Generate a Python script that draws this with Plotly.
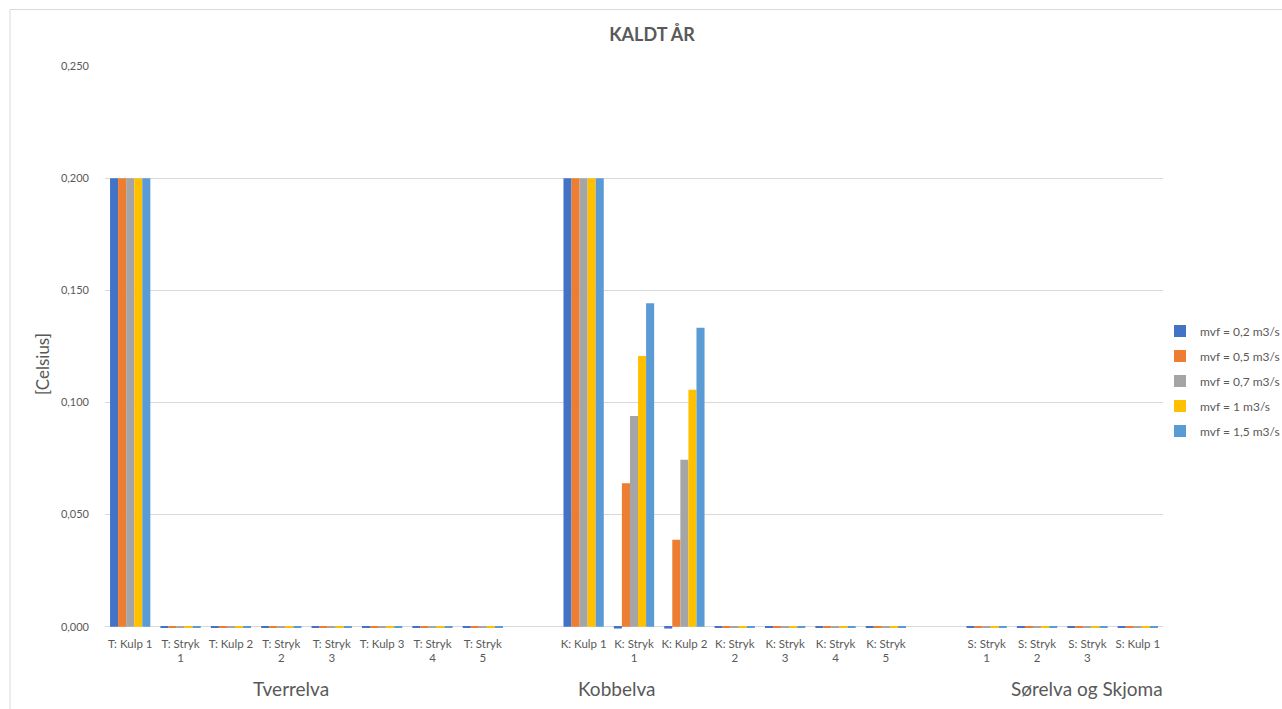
import plotly.graph_objects as go

# Measurement points per river (in plotting order)
rivers = ["Tverrelva", "Kobbelva", "Sørelva og Skjoma"]
tverrelva_points = ["T: Kulp 1", "T: Stryk 1", "T: Kulp 2", "T: Stryk 2", "T: Stryk 3",
                    "T: Kulp 3", "T: Stryk 4", "T: Stryk 5"]
kobbelva_points = ["K: Kulp 1", "K: Stryk 1", "K: Kulp 2", "K: Stryk 2", "K: Stryk 3",
                   "K: Stryk 4", "K: Stryk 5"]
sorelva_points = ["S: Stryk 1", "S: Stryk 2", "S: Stryk 3", "S: Kulp 1"]

series_names = ["mvf = 0,2 m3/s", "mvf = 0,5 m3/s", "mvf = 0,7 m3/s",
                "mvf = 1 m3/s", "mvf = 1,5 m3/s"]

# Temperature change [Celsius] per minimum flow, one list per series
mvf_02 = [0.200, -0.0005, -0.0005, -0.0005, -0.0005, -0.0005, -0.0005, -0.0005,
          0.200, -0.0008, -0.0008, -0.0005, -0.0005, -0.0005, -0.0005,
          -0.0005, -0.0005, -0.0005, -0.0005]
mvf_05 = [0.200, -0.0005, -0.0005, -0.0005, -0.0005, -0.0005, -0.0005, -0.0005,
          0.200, 0.064, 0.0388, -0.0005, -0.0005, -0.0005, -0.0005,
          -0.0005, -0.0005, -0.0005, -0.0005]
mvf_07 = [0.200, -0.0005, -0.0005, -0.0005, -0.0005, -0.0005, -0.0005, -0.0005,
          0.200, 0.094, 0.0745, -0.0005, -0.0005, -0.0005, -0.0005,
          -0.0005, -0.0005, -0.0005, -0.0005]
mvf_1 = [0.200, -0.0005, -0.0005, -0.0005, -0.0005, -0.0005, -0.0005, -0.0005,
         0.200, 0.1207, 0.1057, -0.0005, -0.0005, -0.0005, -0.0005,
         -0.0005, -0.0005, -0.0005, -0.0005]
mvf_15 = [0.200, -0.0005, -0.0005, -0.0005, -0.0005, -0.0005, -0.0005, -0.0005,
          0.200, 0.1442, 0.1333, -0.0005, -0.0005, -0.0005, -0.0005,
          -0.0005, -0.0005, -0.0005, -0.0005]

series_values = [mvf_02, mvf_05, mvf_07, mvf_1, mvf_15]
colors = ["#4472C4", "#ED7D31", "#A5A5A5", "#FFC000", "#5B9BD5"]

# Category slots: one empty slot between rivers
groups = [tverrelva_points, kobbelva_points, sorelva_points]
slot_x, slot_labels = [], []
pos = 0
for gi, g in enumerate(groups):
    for name in g:
        slot_x.append(pos)
        # wrap "X: Stryk n" onto two lines like the category axis does
        parts = name.rsplit(" ", 1)
        if parts[0].endswith("Stryk"):
            slot_labels.append(parts[0] + "<br>" + parts[1])
        else:
            slot_labels.append(name)
        pos += 1
    if gi < len(groups) - 1:
        pos += 1
last_slot = slot_x[-1]

TXT = "#595959"
FONT = "Lato, 'Open Sans', sans-serif"

fig = go.Figure()
for name, vals, col in zip(series_names, series_values, colors):
    fig.add_trace(go.Bar(
        x=slot_x, y=vals, name=name, marker=dict(color=col, line=dict(width=0)),
        legendgroup=name,
    ))

# plot area geometry (pixels); the value axis starts a hair below zero
W, H = 1282, 709
ml, mr, mt, mb = 105, 119, 66, 80
pw, ph = W - ml - mr, H - mt - mb
y_min, y_max = -0.001, 0.25


def py(pix):
    """paper y for a pixel row"""
    return (mt + ph - pix) / ph


def px(pix):
    """paper x for a pixel column"""
    return (pix - ml) / pw


# river labels under the category labels
river_x = [3.19, 9.66, 18.99]
annotations = []
for r, xr in zip(rivers, river_x):
    annotations.append(dict(
        x=xr, y=py(688), xref="x", yref="paper", text=r,
        showarrow=False, font=dict(family=FONT, size=19, color=TXT),
        xanchor="center", yanchor="middle",
    ))
# value axis title
annotations.append(dict(
    x=px(42), y=py(364), xref="paper", yref="paper", text="[Celsius]",
    textangle=-90, showarrow=False, font=dict(family=FONT, size=17, color=TXT),
    xanchor="center", yanchor="middle",
))

# chart area border (top and left edges visible)
shapes = [
    dict(type="line", xref="paper", yref="paper", x0=px(10), x1=px(W + 5),
         y0=py(9.5), y1=py(9.5), line=dict(color="#D9D9D9", width=1)),
    dict(type="line", xref="paper", yref="paper", x0=px(10), x1=px(10),
         y0=py(9.5), y1=py(H + 5), line=dict(color="#D9D9D9", width=1)),
]

fig.update_layout(
    width=W, height=H,
    margin=dict(l=ml, r=mr, t=mt, b=mb, autoexpand=False),
    paper_bgcolor="white", plot_bgcolor="white",
    separators=", ",
    barmode="group", bargap=0.2, bargroupgap=0,
    font=dict(family=FONT, color=TXT, size=11),
    title=dict(text="<b>KALDT ÅR</b>", x=652 / W, xanchor="center",
               y=1 - 35 / H, yanchor="middle",
               font=dict(family=FONT, size=18, color=TXT)),
    xaxis=dict(
        range=[-0.5, last_slot + 0.5], tickmode="array", tickvals=slot_x,
        ticktext=slot_labels, showgrid=False, zeroline=False, ticks="",
        tickfont=dict(family=FONT, size=11.5, color=TXT), tickangle=0,
        showline=False, ticklabelstandoff=6,
    ),
    yaxis=dict(
        range=[y_min, y_max], tickmode="linear", tick0=0, dtick=0.05,
        tickformat=".3f", showgrid=True,
        gridcolor="#D9D9D9", gridwidth=1, zeroline=True, zerolinecolor="#D9D9D9",
        zerolinewidth=1, ticks="", tickfont=dict(family=FONT, size=11, color=TXT),
        ticklabelstandoff=15,
    ),
    legend=dict(
        x=px(1160), xanchor="left", y=py(381), yanchor="middle",
        font=dict(family=FONT, size=12, color=TXT), tracegroupgap=6,
        itemwidth=30, bgcolor="rgba(0,0,0,0)",
    ),
    annotations=annotations,
    shapes=shapes,
)

fig.write_html("out.html")
